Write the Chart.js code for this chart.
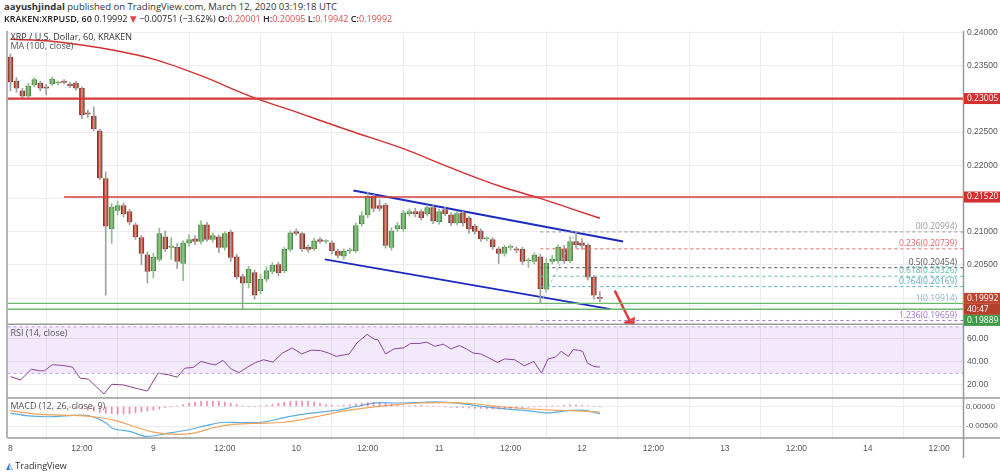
<!DOCTYPE html>
<html>
<head>
<meta charset="utf-8">
<script src="https://cdn.jsdelivr.net/npm/chart.js@4.4.1/dist/chart.umd.min.js"></script>
<style>
  body { margin: 0; width: 1000px; height: 474px; background: #fff; font-family: 'Open Sans', 'DejaVu Sans', sans-serif; overflow: hidden; position: relative; }
  .hdr1 { position: absolute; left: 4px; top: 0px; font-size: 9.5px; color: #333; z-index: 2; }
  .hdr2 { position: absolute; left: 4px; top: 12px; font-size: 9px; color: #222; font-weight: 600; z-index: 2; }
  .hdr2 .r { color: #e04b4b; font-weight: 400; }
  #wrap { position: absolute; left: 0; top: 22px; width: 1000px; height: 438px; }
  .foot { position: absolute; left: 6px; top: 459px; font-size: 9px; color: #333; }
  .foot b { color: #2a78d4; }
</style>
</head>
<body>
<div id="wrap"><canvas id="c" width="1000" height="438"></canvas></div>
<div class="hdr1"><b>aayushjindal</b> published on TradingView.com, March 12, 2020 03:19:18 UTC</div>
<div class="hdr2">KRAKEN:XRPUSD, 60 <span style="font-weight:400">0.19992</span> <span style="color:#e04b4b">▼</span> <span style="font-weight:400">−0.00751 (−3.62%)</span> O:<span class="r">0.20001</span> H:<span class="r">0.20095</span> L:<span class="r">0.19942</span> C:<span class="r">0.19992</span></div>
<div class="foot"><b>◭</b> TradingView</div>
<script>
/* ── data ── */
const opens = [
  .2363,.2327,.2312,.2304,.2321,.2324,.2318,.2323,.2324,.2327,
  .2322,.2324,.2316,.2279,.2274,.2252,.2180,.2104,.2132,.2139,
  .2130,.2110,.2091,.2065,.2041,.2058,.2092,.2076,.2076,.2052,
  .2083,.2089,.2085,.2110,.2088,.2092,.2076,.2099,.2062,.2032,
  .2023,.2038,.2011,.2028,.2040,.2050,.2041,.2073,.2100,.2097,
  .2076,.2074,.2088,.2085,.2083,.2070,.2063,.2071,.2071,.2112,
  .2125,.2153,.2139,.2140,.2076,.2104,.2104,.2127,.2130,.2130,
  .2127,.2136,.2115,.2133,.2125,.2113,.2128,.2120,.2108,.2101,
  .2089,.2088,.2074,.2067,.2076,.2074,.2073,.2056,.2055,.2062,
  .2013,.2055,.2056,.2074,.2056,.2085,.2083,.2079,.2031,.20001];
const closes = [
  .2326,.2316,.2304,.2319,.2329,.2316,.2316,.2330,.2324,.2325,
  .2320,.2316,.2276,.2277,.2255,.2181,.2108,.2137,.2139,.2127,
  .2114,.2092,.2067,.2040,.2061,.2097,.2074,.2076,.2055,.2083,
  .2088,.2085,.2110,.2088,.2094,.2076,.2097,.2061,.2032,.2022,
  .2043,.2004,.2028,.2041,.2049,.2038,.2073,.2098,.2097,.2074,
  .2073,.2086,.2085,.2085,.2071,.2064,.2070,.2071,.2109,.2124,
  .2153,.2135,.2135,.2079,.2101,.2109,.2128,.2130,.2127,.2121,
  .2136,.2116,.2130,.2127,.2113,.2127,.2113,.2104,.2100,.2089,
  .2089,.2077,.2067,.2076,.2076,.2072,.2055,.2056,.2064,.2014,
  .2052,.2058,.2076,.2056,.2085,.2080,.2079,.2031,.2004,.19992];
const highs = [
  .2368,.2332,.2316,.2324,.2332,.2327,.2322,.2333,.2327,.2329,
  .2325,.2327,.2318,.2283,.2288,.2254,.2190,.2142,.2146,.2143,
  .2133,.2113,.2094,.2069,.2067,.2105,.2101,.2091,.2082,.2086,
  .2095,.2094,.2116,.2114,.2098,.2095,.2100,.2102,.2066,.2036,
  .2048,.2042,.2036,.2047,.2053,.2054,.2076,.2101,.2104,.2099,
  .2080,.2090,.2091,.2088,.2086,.2073,.2074,.2075,.2113,.2130,
  .2160,.2156,.2148,.2143,.2106,.2114,.2132,.2134,.2135,.2133,
  .2140,.2139,.2134,.2137,.2128,.2131,.2131,.2123,.2111,.2104,
  .2092,.2091,.2077,.2079,.2080,.2077,.2076,.2060,.2068,.2066,
  .2060,.2064,.2080,.2079,.2092,.20994,.2089,.2082,.2034,.20095];
const lows = [
  .2312,.2310,.2300,.2302,.2318,.2312,.2306,.2320,.2321,.2322,
  .2317,.2313,.2270,.2272,.2252,.2178,.2004,.2082,.2125,.2122,
  .2110,.2088,.2050,.2022,.2030,.2055,.2070,.2058,.2044,.2026,
  .2078,.2080,.2081,.2085,.2084,.2068,.2072,.2055,.2028,.1984,
  .2015,.1998,.2006,.2024,.2036,.2033,.2038,.2070,.2094,.2070,
  .2069,.2071,.2082,.2082,.2066,.2060,.2058,.2067,.2068,.2108,
  .2121,.2130,.2131,.2075,.2072,.2100,.2100,.2123,.2122,.2117,
  .2123,.2112,.2111,.2124,.2109,.2110,.2108,.2097,.2096,.2085,
  .2086,.2073,.2052,.2063,.2072,.2068,.2050,.2046,.2051,.19914,
  .2009,.2051,.2052,.2052,.2053,.2075,.2073,.2027,.1998,.19942];

// MA(100) read at hours
const maHours = [0, 7, 15, 24, 32, 40, 49, 57, 66, 74, 82, 89, 94, 99];
const maVals  = [.2390,.2387,.2377,.2360,.2335,.2305,.2277,.2252,.2225,.2196,.2169,.2150,.2135,.2120];

// RSI(14)
const rsiHours = [0,1.7,3.5,4.9,5.7,7,8.8,10.4,11.7,13.1,15.7,17,19,21.1,23,24.8,26.6,28,29.3,30.7,32,33.4,34.5,35.7,37.1,38.4,39.8,41.2,42.5,44.1,45.7,47.3,48.9,50.5,52.1,53.4,54.7,56.9,58.2,59.9,61.2,61.7,63,64.4,66,67.2,68.6,69.9,71.3,72.7,74,75.4,76.6,77.7,79,80.4,81.8,83,84.7,86.3,87.9,89.2,90.3,91.6,92.5,93.7,94.5,95.4,96.1,96.9,98,99];
const rsiVals  = [27.2,24.3,33.6,32.2,32.2,37.4,36.8,35.4,25.8,25,12.2,20.6,20,17.1,14.8,30.2,28.7,26.7,34.5,35.1,40.3,38.3,37.4,41.2,33.6,30.7,35.4,39.4,41.7,39.7,47.5,51.9,46.7,49.9,49.6,47.5,44.6,46.7,56.2,63.5,59.1,59.1,46.7,51,51.9,55.7,55.7,56.8,53.3,55.1,51,53.9,51,47.5,46.7,43.2,39.4,42.4,41.7,36.5,40.3,30.2,42.4,44.1,49,44.6,50.4,49.9,49,38.9,35.9,35.4];

// MACD(12,26,9)
const macdHours = [0,3,6,9,12,16,17,20,23,26,30,33,36,39,42,46,49,52,55,58,62,65,68,71,74,78,81,84,87,90,94,96,99];
const macdVals  = [-.0017,-.0024,-.0026,-.0024,-.0022,-.0041,-.0054,-.0063,-.0076,-.0069,-.0059,-.0048,-.0040,-.0041,-.0040,-.0028,-.0020,-.0014,-.0009,0,.0010,.0009,.0010,.0012,.0010,.0003,-.0003,-.0007,-.0011,-.0016,-.0010,-.0009,-.0018];
const sigHours = [0,5,9,14,18,21,24,28,31,34,37,41,46,49,52,56,61,65,69,73,78,82,86,91,95,99];
const sigVals  = [-.0011,-.0020,-.0022,-.0026,-.0037,-.0052,-.0065,-.0071,-.0067,-.0054,-.0046,-.0043,-.0040,-.0033,-.0024,-.0011,-.0001,.0005,.0009,.0010,.0007,0,-.0005,-.0009,-.0011,-.0014];
const histStart = 10;
const histVals = [ // x1e-4, from hour 10
  -2,-4,-6,-9,-12,-15,-17,-18,-19,-19,-18,-16,-14,-12,-9,-6,-3,-1,2,
  5,8,11,13,14,14,13,11,8,5,2,0,1,2,3,5,8,11,13,14,14,13,11,8,
  5,3,2,3,5,7,9,10,10,9,7,5,3,2,2,3,3,2,1,0,-1,-2,-3,-3,-4,
  -5,-5,-6,-6,-6,-5,-5,-4,-3,-2,-1,0,1,2,2,3,4,4,3,2,1,-1];

// axis ticks
const timeTicks = [0, 12, 24, 36, 48, 60, 72, 84, 96, 108, 120, 132, 144, 156];
const priceTicks = [0.205, 0.21, 0.22, 0.225, 0.235, 0.24];
const priceGrid = [0.2, 0.205, 0.21, 0.215, 0.22, 0.225, 0.23, 0.235, 0.24];
const rsiTicks = [20, 40, 60];
const macdTicks = [-0.005, 0];

// drawings
const hLines = [
  { y: 0.23005, from: -0.5, to: 160, color: '#d93b3b', width: 2.2 },
  { y: 0.2152,  from: 9,    to: 160, color: '#d93b3b', width: 1.6 },
  { y: 0.19917, from: -0.5, to: 160, color: '#6db56a', width: 1.4 },
  { y: 0.19827, from: -0.5, to: 160, color: '#6db56a', width: 1.4 }
];
const channel = [
  { pts: [[57.6, 0.2162], [102.9, 0.2085]] },
  { pts: [[52.8, 0.2058], [100.8, 0.1983]] }
];
const fibLevels = [
  { r: '0',     v: 0.20994, color: '#9a9a9a' },
  { r: '0.236', v: 0.20739, color: '#e06666' },
  { r: '0.5',   v: 0.20454, color: '#555555' },
  { r: '0.618', v: 0.20326, color: '#5dbfa8' },
  { r: '0.764', v: 0.20169, color: '#5aa6c4' },
  { r: '1',     v: 0.19914, color: '#8fb3cc' },
  { r: '1.236', v: 0.19659, color: '#a274d0' }
];
const fibFrom = 89, fibTo = 160;
const axisBoxes = [
  { v: 0.23005, text: '0.23005', bg: '#d32f2f', dy: 0 },
  { v: 0.2152,  text: '0.21520', bg: '#d32f2f', dy: 0 },
  { v: 0.19992, text: '0.19992', bg: '#c0452f', dy: 0 },
  { v: 0.19992, text: '40:47',   bg: '#b5402c', dy: 11 },
  { v: 0.19992, text: '0.19889', bg: '#3e9a46', dy: 22 }
];

/* ── helpers ── */
const RED = '#c4432e', GREEN = '#6aa862';
const isUp = i => closes[i] >= opens[i];
const hours = opens.map((_, i) => i);
const pts = (xs, ys) => xs.map((x, i) => ({ x, y: ys[i] }));
const seg = (a, b, y) => [{ x: a, y }, { x: b, y }];
const near = (v, list) => list.some(t => Math.abs(v - t) < 1e-7);
const setTicks = list => s => { s.ticks = list.map(v => ({ value: v })); };
const fixW = s => { s.width = 37; };

const datasets = [];
// RSI band
datasets.push({ type: 'line', yAxisID: 'yr', data: seg(-0.5, 160, 70), borderColor: '#b99be0', borderWidth: 1, borderDash: [3, 3], pointRadius: 0, fill: false });
datasets.push({ type: 'line', yAxisID: 'yr', data: seg(-0.5, 160, 30), borderColor: '#b99be0', borderWidth: 1, borderDash: [3, 3], pointRadius: 0, fill: '-1', backgroundColor: 'rgba(170,110,230,0.15)' });
datasets.push({ type: 'line', yAxisID: 'yr', data: pts(rsiHours, rsiVals), borderColor: '#8a3f8f', borderWidth: 1, pointRadius: 0, tension: 0 });
// MACD
datasets.push({ type: 'bar', yAxisID: 'ym', data: histVals.map((v, i) => ({ x: histStart + i, y: v / 10000 })), backgroundColor: 'rgba(230,60,120,0.6)', barThickness: 1, grouped: false });
datasets.push({ type: 'line', yAxisID: 'ym', data: pts(sigHours, sigVals), borderColor: '#f0a35a', borderWidth: 1.2, pointRadius: 0, cubicInterpolationMode: 'monotone' });
datasets.push({ type: 'line', yAxisID: 'ym', data: pts(macdHours, macdVals), borderColor: '#5aaee0', borderWidth: 1.2, pointRadius: 0, cubicInterpolationMode: 'monotone' });
// horizontal levels
hLines.forEach(l => datasets.push({ type: 'line', yAxisID: 'y', data: seg(l.from, l.to, l.y), borderColor: l.color, borderWidth: l.width, pointRadius: 0 }));
// fib
fibLevels.forEach(f => datasets.push({ type: 'line', yAxisID: 'y', data: seg(fibFrom, fibTo, f.v), borderColor: f.color, borderWidth: 1, borderDash: [3, 3], pointRadius: 0 }));
datasets.push({ type: 'line', yAxisID: 'y', data: [{ x: 89, y: 0.19914 }, { x: 95, y: 0.20994 }], borderColor: '#9fb9cc', borderWidth: 1, borderDash: [3, 3], pointRadius: 0 });
// MA
datasets.push({ type: 'line', yAxisID: 'y', data: pts(maHours, maVals), borderColor: '#d32f2f', borderWidth: 1.4, pointRadius: 0, cubicInterpolationMode: 'monotone' });
// candles
datasets.push({ type: 'bar', yAxisID: 'y', grouped: false, barThickness: 1,
  data: hours.map(i => ({ x: i, y: [lows[i], highs[i]] })),
  backgroundColor: hours.map(i => isUp(i) ? '#8fbf8a' : '#a0a0a0') });
datasets.push({ type: 'bar', yAxisID: 'y', grouped: false, barThickness: 5, minBarLength: 1,
  data: hours.map(i => ({ x: i, y: [opens[i], closes[i]] })),
  backgroundColor: hours.map(i => isUp(i) ? GREEN : RED),
  borderColor: hours.map(i => isUp(i) ? '#3f7d3a' : '#86291b'), borderWidth: 0.8, borderSkipped: false });
// channel
channel.forEach(c => datasets.push({ type: 'line', yAxisID: 'y', data: c.pts.map(p => ({ x: p[0], y: p[1] })), borderColor: '#1c2bbf', borderWidth: 2, pointRadius: 0 }));
// arrow
datasets.push({ type: 'line', yAxisID: 'y', data: [{ x: 101.5, y: 0.2011 }, { x: 104.2, y: 0.1962 }], borderColor: '#e53935', borderWidth: 2.5,
  pointRadius: [0, 5], pointStyle: 'triangle', pointRotation: 154, pointBackgroundColor: '#e53935', pointBorderColor: '#e53935' });

const overlay = {
  id: 'overlay',
  beforeDatasetsDraw(chart) {
    // extra price grid lines at levels whose labels are replaced by boxes
    const { ctx, chartArea: a, scales: { y } } = chart;
    ctx.save(); ctx.strokeStyle = '#ececec'; ctx.lineWidth = 1;
    priceGrid.filter(v => !near(v, priceTicks)).forEach(v => {
      const p = Math.round(y.getPixelForValue(v)) + 0.5;
      ctx.beginPath(); ctx.moveTo(a.left, p); ctx.lineTo(a.right, p); ctx.stroke();
    });
    ctx.restore();
  },
  afterDraw(chart) {
    const { ctx, chartArea: a, scales } = chart;
    const y = scales.y, yr = scales.yr, ym = scales.ym;
    ctx.save();
    // pane separators and frame
    ctx.strokeStyle = '#9a9a9a'; ctx.lineWidth = 1.5;
    [y.bottom, yr.bottom, a.bottom].forEach(p => { ctx.beginPath(); ctx.moveTo(a.left, p); ctx.lineTo(1000, p); ctx.stroke(); });
    ctx.beginPath(); ctx.moveTo(a.right + 0.5, a.top); ctx.lineTo(a.right + 0.5, a.bottom + 20); ctx.stroke();
    ctx.beginPath(); ctx.moveTo(a.left - 0.5, a.top); ctx.lineTo(a.left - 0.5, a.bottom); ctx.stroke();
    // legends
    ctx.font = '9px "Open Sans", sans-serif'; ctx.fillStyle = '#333'; ctx.textBaseline = 'middle';
    ctx.fillText('XRP / U.S. Dollar, 60, KRAKEN', a.left + 3, y.top + 6);
    ctx.fillStyle = '#555';
    ctx.fillText('MA (100, close)', a.left + 3, y.top + 15);
    ctx.fillText('RSI (14, close)', a.left + 3, yr.top + 9);
    ctx.fillText('MACD (12, 26, close, 9)', a.left + 3, ym.top + 8);
    // fib labels
    ctx.font = '8.5px "Open Sans", sans-serif'; ctx.textAlign = 'right'; ctx.textBaseline = 'bottom';
    fibLevels.forEach(f => { ctx.fillStyle = f.color; ctx.fillText(f.r + '(' + f.v.toFixed(5) + ')', a.right - 6, y.getPixelForValue(f.v) - 1); });
    // axis boxes
    ctx.textAlign = 'left'; ctx.textBaseline = 'middle'; ctx.font = '8.5px "Open Sans", sans-serif';
    axisBoxes.forEach(b => {
      const py = y.getPixelForValue(b.v) + b.dy;
      ctx.fillStyle = b.bg; ctx.fillRect(a.right + 1, py - 5.5, 36, 11);
      ctx.fillStyle = '#fff'; ctx.fillText(b.text, a.right + 4, py);
    });
    ctx.restore();
  }
};

const tickFont = { size: 8.5 };
new Chart(document.getElementById('c'), {
  data: { datasets },
  options: {
    responsive: false, animation: false, events: [],
    layout: { padding: { left: 5, top: 2, right: 0, bottom: 0 } },
    plugins: { legend: { display: false }, tooltip: { enabled: false } },
    scales: {
      x: { type: 'linear', min: -0.5, max: 160, offset: false,
        grid: { color: '#ececec', drawTicks: false }, border: { display: false },
        afterBuildTicks: setTicks(timeTicks), afterFit: s => { s.height = 22; },
        ticks: { autoSkip: false, maxRotation: 0, padding: 6, color: '#555', font: tickFont,
          callback: v => v % 24 === 0 ? String(8 + v / 24) : '12:00' } },
      y: { position: 'right', stack: 'p', stackWeight: 294, min: 0.19601, max: 0.24022,
        grid: { color: '#ececec', drawTicks: false }, border: { display: false }, afterFit: fixW,
        afterBuildTicks: setTicks(priceTicks),
        ticks: { autoSkip: false, padding: 4, color: '#555', font: tickFont, callback: v => v.toFixed(5) } },
      yr: { position: 'right', stack: 'p', stackWeight: 74, min: 8.7, max: 72.2,
        grid: { color: '#ececec', drawTicks: false }, border: { display: false }, afterFit: fixW,
        afterBuildTicks: setTicks(rsiTicks),
        ticks: { autoSkip: false, padding: 4, color: '#555', font: tickFont, callback: v => v.toFixed(2) } },
      ym: { position: 'right', stack: 'p', stackWeight: 40, min: -0.008, max: 0.00214,
        grid: { color: '#ececec', drawTicks: false }, border: { display: false }, afterFit: fixW,
        afterBuildTicks: setTicks(macdTicks),
        ticks: { autoSkip: false, padding: 3, color: '#555', font: { size: 8 },
          callback: v => v === 0 ? '0.00000' : v.toFixed(5) } }
    }
  },
  plugins: [overlay]
});
</script>
</body>
</html>
